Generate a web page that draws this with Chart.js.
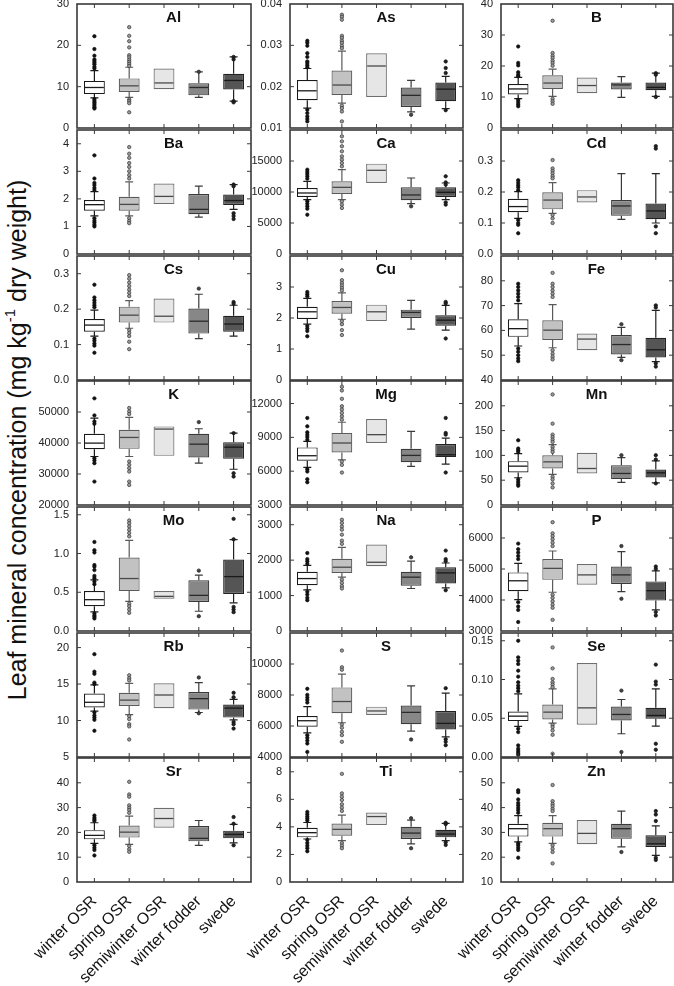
<!DOCTYPE html>
<html>
<head>
<meta charset="utf-8">
<script src="https://cdn.jsdelivr.net/npm/chart.js@4.4.1/dist/chart.umd.min.js"></script>
<style>
  html, body { margin: 0; padding: 0; background: #fff; }
  #fig { position: relative; width: 674px; height: 986px; overflow: hidden; background: #fff; }
  #fig canvas { position: absolute; }
  #ytitle {
    position: absolute; left: 17px; top: 440px;
    transform: translate(-50%, -50%) rotate(-90deg);
    white-space: nowrap; color: #111;
    font: 25px "Liberation Sans", Arial, sans-serif;
  }
  #ytitle sup { font-size: 0.6em; vertical-align: 0.7em; line-height: 0; }
</style>
</head>
<body>
<div id="fig">
  <div id="ytitle">Leaf mineral concentration (mg kg<sup>-1</sup> dry weight)</div>
</div>
<script>
// ---- data ----
const GROUPS = ['winter OSR', 'spring OSR', 'semiwinter OSR', 'winter fodder', 'swede'];

// axis: [min, max, step]; box rows: [lower whisker, q1, median, q3, upper whisker]
const AL_AXIS = [0, 30, 10];
const AL_BOX = [[7.3, 8.2, 9.8, 11.4, 13.9], [7.4, 8.7, 10.2, 12.0, 14.7], [null, 9.4, 10.9, 14.4, null], [7.4, 7.9, 9.8, 10.8, 13.6], [6.5, 9.3, 11.5, 13.1, 17.2]];
const AL_OUT = [[22.2, 19.1, 17.5, 16.6, 16.2, 15.8, 15.4, 14.8, 14.4, 7.0, 6.6, 6.2, 5.8, 5.4, 5.0, 4.7], [24.4, 22.3, 21.0, 19.5, 17.6, 17.1, 16.5, 16.0, 15.5, 15.0, 6.9, 6.5, 6.0, 3.8], [], [13.6], [17.2, 16.6, 6.5, 6.2]];

const AS_AXIS = [0.01, 0.04, 0.01];
const AS_BOX = [[0.0148, 0.0167, 0.0190, 0.0216, 0.0244], [0.0160, 0.0180, 0.0204, 0.0239, 0.0286], [null, 0.0175, 0.0250, 0.0281, null], [0.0139, 0.0151, 0.0179, 0.0198, 0.0215], [0.0147, 0.0165, 0.0194, 0.0210, 0.0225]];
const AS_OUT = [[0.0311, 0.0306, 0.0299, 0.0281, 0.0272, 0.0261, 0.0257, 0.0252, 0.0247, 0.0144, 0.0136, 0.0128, 0.0122, 0.0116], [0.0374, 0.0369, 0.0362, 0.0323, 0.0318, 0.0311, 0.0306, 0.0299, 0.0293, 0.0154, 0.0148, 0.0140, 0.0116], [], [0.0132], [0.0261, 0.0245, 0.0233, 0.0143]];

const B_AXIS = [0, 40, 10];
const B_BOX = [[9.5, 10.8, 12.6, 14.2, 16.3], [10.2, 12.6, 14.5, 17.0, 19.0], [null, 11.2, 13.7, 16.3, null], [9.9, 12.4, 13.9, 14.7, 16.6], [10.2, 12.2, 13.1, 14.7, 17.7]];
const B_OUT = [[26.3, 21.0, 20.2, 18.0, 17.2, 16.7, 9.1, 8.4, 7.7, 7.0], [34.6, 24.2, 23.3, 22.6, 21.7, 21.0, 20.1, 9.4, 8.6, 7.8], [], [], [17.7, 17.2, 10.0]];

const BA_AXIS = [0, 4.5, 1];
const BA_BOX = [[1.38, 1.57, 1.79, 1.96, 2.26], [1.38, 1.57, 1.80, 2.08, 2.62], [null, 1.81, 2.09, 2.56, null], [1.34, 1.44, 1.62, 2.18, 2.46], [1.62, 1.78, 1.94, 2.16, 2.52]];
const BA_OUT = [[3.58, 2.74, 2.58, 2.50, 2.40, 2.32, 1.30, 1.21, 1.14, 1.06, 1.00], [3.88, 3.64, 3.49, 3.30, 3.16, 3.00, 2.86, 2.74, 1.30, 1.20, 1.12], [], [], [2.52, 2.46, 1.48, 1.38, 1.27]];

const CA_AXIS = [0, 20000, 5000];
const CA_BOX = [[8760, 9190, 9840, 10650, 11720], [8760, 9680, 10750, 11720, 13600], [null, 11450, 13500, 14570, null], [8120, 8660, 9520, 10750, 12260], [8760, 9190, 9950, 10750, 11450]];
const CA_OUT = [[13600, 13230, 12900, 12530, 12150, 8500, 8120, 7690, 7310, 6340], [18980, 18170, 17370, 16560, 15750, 15220, 14680, 14140, 8500, 7960, 7420], [], [7690], [12530, 11560, 11180, 8330, 7960]];

const CD_AXIS = [0, 0.4, 0.1];
const CD_BOX = [[0.115, 0.135, 0.153, 0.178, 0.201], [0.131, 0.144, 0.174, 0.199, 0.230], [null, 0.166, 0.184, 0.206, null], [0.112, 0.123, 0.155, 0.174, 0.259], [0.100, 0.112, 0.139, 0.163, 0.259]];
const CD_OUT = [[0.238, 0.230, 0.222, 0.215, 0.206, 0.110, 0.100, 0.094, 0.067], [0.303, 0.276, 0.268, 0.260, 0.251, 0.244, 0.126, 0.115, 0.100], [], [], [0.348, 0.340, 0.089, 0.067]];

const CS_AXIS = [0, 0.35, 0.1];
const CS_BOX = [[0.124, 0.136, 0.155, 0.172, 0.197], [0.146, 0.162, 0.183, 0.207, 0.224], [null, 0.162, 0.180, 0.230, null], [0.117, 0.131, 0.166, 0.202, 0.242], [0.124, 0.136, 0.158, 0.181, 0.211]];
const CS_OUT = [[0.269, 0.233, 0.225, 0.218, 0.211, 0.205, 0.117, 0.111, 0.103, 0.097, 0.077], [0.296, 0.286, 0.275, 0.265, 0.255, 0.246, 0.237, 0.141, 0.133, 0.124, 0.108, 0.087], [], [0.258], [0.220, 0.215]];

const CU_AXIS = [0, 4, 1];
const CU_BOX = [[1.80, 1.97, 2.20, 2.36, 2.63], [1.96, 2.14, 2.34, 2.55, 2.81], [null, 1.90, 2.20, 2.43, null], [1.64, 2.00, 2.18, 2.27, 2.57], [1.61, 1.75, 1.93, 2.09, 2.41]];
const CU_OUT = [[2.84, 2.77, 2.70, 1.74, 1.66, 1.58, 1.41], [3.54, 3.22, 3.13, 3.05, 2.97, 2.89, 1.90, 1.80, 1.61, 1.45], [], [], [2.52, 2.47, 1.34]];

const FE_AXIS = [40, 90, 10];
const FE_BOX = [[53.7, 57.4, 60.7, 64.5, 70.8], [53.0, 56.1, 60.1, 64.1, 70.4], [null, 52.0, 56.5, 58.7, null], [49.1, 50.3, 54.3, 58.1, 61.2], [47.4, 49.1, 52.2, 57.0, 68.1]];
const FE_OUT = [[78.8, 77.5, 76.1, 74.8, 73.5, 72.1, 52.7, 51.4, 50.0, 48.7, 47.6], [83.2, 78.8, 77.5, 76.1, 74.8, 73.5, 52.0, 50.6, 49.4, 48.3], [], [62.5, 48.0], [70.1, 69.2, 46.7, 45.4]];

const K_AXIS = [20000, 60000, 10000];
const K_BOX = [[35640, 38020, 39960, 42980, 48050], [35640, 38120, 41790, 44270, 48260], [null, 35860, 44490, 45350, null], [33480, 35320, 39630, 42980, 44600], [31540, 34890, 38660, 40280, 43190]];
const K_OUT = [[54410, 48910, 46970, 46210, 35100, 34350, 33480, 27550], [51290, 50200, 49340, 34020, 32950, 31870, 30790, 27550, 26470], [], [46750], [43190, 30250, 29170]];

const MG_AXIS = [3000, 14000, 3000];
const MG_BOX = [[6330, 6920, 7370, 8110, 8640], [7010, 7660, 8500, 9390, 10340], [null, 8500, 9240, 10630, null], [6420, 6800, 7400, 7990, 9540], [6620, 7250, 7460, 8410, 8940]];
const MG_OUT = [[10720, 9980, 9450, 9240, 9030, 8790, 6180, 5970, 5290, 5020], [13490, 13160, 12420, 11760, 11470, 11170, 10870, 10570, 6860, 6560, 5880], [], [], [10720, 9390, 9240, 5880]];

const MN_AXIS = [0, 250, 50];
const MN_BOX = [[54.9, 65.6, 78.3, 88.4, 103.7], [61.6, 73.6, 87.0, 100.4, 121.8], [null, 63.6, 73.6, 105.1, null], [45.5, 52.2, 63.6, 80.3, 95.7], [44.8, 55.6, 64.9, 71.6, 89.0]];
const MN_OUT = [[130.5, 113.8, 110.4, 107.1, 51.5, 46.9, 42.2, 38.8], [222.9, 164.0, 141.9, 137.2, 131.9, 127.2, 117.1, 111.8, 107.1, 56.9, 51.5, 43.5, 35.5], [], [100.4], [100.4, 91.7, 43.5]];

const MO_AXIS = [0, 1.6, 0.5];
const MO_BOX = [[0.247, 0.319, 0.404, 0.515, 0.660], [0.383, 0.515, 0.677, 0.949, 1.170], [null, 0.417, 0.447, 0.515, null], [0.255, 0.374, 0.460, 0.655, 0.720], [0.362, 0.477, 0.702, 0.923, 1.179]];
const MO_OUT = [[1.149, 1.043, 1.013, 0.851, 0.830, 0.787, 0.711, 0.681, 0.638, 0.604, 0.226, 0.200, 0.183, 0.162], [1.426, 1.391, 1.349, 1.306, 1.264, 1.221, 0.353, 0.319, 0.277, 0.234], [], [0.779, 0.191], [1.447, 1.183, 0.311, 0.277, 0.243]];

const NA_AXIS = [0, 3500, 1000];
const NA_BOX = [[1160, 1290, 1480, 1670, 1850], [1520, 1640, 1800, 2040, 2360], [null, 1830, 1940, 2440, null], [1200, 1280, 1520, 1670, 1970], [1220, 1340, 1640, 1800, 1920]];
const NA_OUT = [[2200, 2030, 1970, 1900, 1110, 1030, 940, 870], [3140, 3050, 2950, 2860, 2720, 2550, 2460, 1450, 1360, 1270, 1200], [], [2080], [2270, 2030, 1970, 1150]];

const P_AXIS = [3000, 7000, 1000];
const P_BOX = [[4010, 4280, 4620, 4890, 5180], [4250, 4650, 5020, 5320, 5580], [null, 4490, 4810, 5160, null], [4270, 4520, 4810, 5080, 5560], [3680, 3980, 4300, 4600, 4940]];
const P_OUT = [[5820, 5640, 5530, 5420, 5320, 3930, 3790, 3680, 3290], [6510, 6150, 6060, 5960, 5850, 5740, 4170, 4070, 3960, 3850, 3750, 3360], [], [5740, 4040], [5080, 5000, 3610, 3500]];

const RB_AXIS = [5, 22, 5];
const RB_BOX = [[11.3, 11.8, 12.5, 13.7, 14.9], [10.8, 12.0, 12.8, 13.8, 15.1], [null, 11.7, 13.5, 15.1, null], [11.1, 11.5, 13.0, 13.9, 15.2], [10.1, 10.4, 11.7, 12.2, 12.9]];
const RB_OUT = [[19.1, 16.7, 16.4, 15.2, 15.0, 11.1, 10.7, 10.4, 10.1, 8.6], [16.2, 15.8, 15.5, 10.6, 10.2, 9.5, 9.2, 7.4], [], [15.9, 11.0], [13.8, 13.2, 9.8, 9.5, 8.9]];

const S_AXIS = [4000, 12000, 2000];
const S_BOX = [[5560, 5950, 6340, 6640, 7250], [6210, 6820, 7580, 8490, 9350], [null, 6710, 6970, 7250, null], [5670, 6120, 6880, 7320, 8590], [5300, 5780, 6170, 6970, 8120]];
const S_OUT = [[8400, 8010, 7840, 7680, 7510, 5410, 5240, 5060, 4870, 4330], [10870, 9790, 9630, 6100, 5890, 5630, 5410, 4980], [], [5130], [8440, 5150, 4980, 4760]];

const SE_AXIS = [0, 0.16, 0.05];
const SE_BOX = [[0.0394, 0.0463, 0.0527, 0.0587, 0.0814], [0.0437, 0.0484, 0.0579, 0.0677, 0.0879], [null, 0.0416, 0.0634, 0.1213, null], [0.0300, 0.0471, 0.0549, 0.0651, 0.0742], [0.0399, 0.0493, 0.0536, 0.0634, 0.0879]];
const SE_OUT = [[0.150, 0.1286, 0.1243, 0.120, 0.1114, 0.1037, 0.0964, 0.0921, 0.0887, 0.0849, 0.0364, 0.0321, 0.015, 0.0107, 0.0077, 0.0051, 0.003], [0.1414, 0.1144, 0.1007, 0.0964, 0.0934, 0.090, 0.0416, 0.0386, 0.0343, 0.0287, 0.0043], [], [0.0857, 0.0064], [0.1192, 0.0973, 0.0934, 0.0171, 0.0094]];

const SR_AXIS = [0, 50, 10];
const SR_BOX = [[15.6, 17.2, 18.8, 20.9, 23.9], [15.2, 17.9, 20.1, 22.8, 26.6], [null, 21.9, 25.6, 29.9, null], [14.8, 16.4, 17.6, 22.6, 24.8], [15.8, 17.6, 19.2, 20.7, 23.2]];
const SR_OUT = [[26.8, 25.9, 25.2, 24.6, 14.8, 13.8, 12.9, 10.7], [40.4, 35.3, 34.4, 30.9, 29.9, 29.0, 27.9, 14.5, 13.2, 12.2], [], [], [26.2, 23.5, 14.8]];

const TI_AXIS = [0, 9, 2];
const TI_BOX = [[3.12, 3.24, 3.58, 3.94, 4.32], [3.00, 3.36, 3.82, 4.25, 4.85], [null, 4.13, 4.75, 5.04, null], [2.76, 3.12, 3.55, 4.01, 4.49], [3.00, 3.24, 3.48, 3.79, 4.25]];
const TI_OUT = [[5.09, 4.92, 4.75, 4.61, 4.46, 3.05, 2.83, 2.64, 2.45, 2.23], [7.85, 6.43, 6.19, 5.95, 5.64, 5.40, 5.16, 2.83, 2.64, 2.45], [], [4.63, 2.45], [4.30, 4.20, 2.88, 2.69]];

const ZN_AXIS = [10, 60, 10];
const ZN_BOX = [[26.2, 28.3, 31.5, 33.5, 36.8], [25.6, 28.3, 31.5, 33.9, 36.8], [null, 25.2, 29.6, 35.0, null], [24.2, 27.4, 31.5, 33.5, 38.6], [20.7, 24.1, 25.4, 28.9, 32.6]];
const ZN_OUT = [[47.0, 46.2, 43.3, 41.9, 40.9, 39.9, 39.0, 37.9, 25.6, 24.8, 23.8, 22.9, 19.8], [49.1, 42.6, 41.5, 40.6, 39.5, 38.6, 24.8, 23.4, 22.1, 17.5], [], [22.1], [38.6, 37.2, 34.6, 19.8, 18.9]];

// panels in reading order (3 per row)
const PANELS = [
    ['Al', AL_AXIS, AL_BOX, AL_OUT], ['As', AS_AXIS, AS_BOX, AS_OUT], ['B', B_AXIS, B_BOX, B_OUT],
    ['Ba', BA_AXIS, BA_BOX, BA_OUT], ['Ca', CA_AXIS, CA_BOX, CA_OUT], ['Cd', CD_AXIS, CD_BOX, CD_OUT],
    ['Cs', CS_AXIS, CS_BOX, CS_OUT], ['Cu', CU_AXIS, CU_BOX, CU_OUT], ['Fe', FE_AXIS, FE_BOX, FE_OUT],
    ['K', K_AXIS, K_BOX, K_OUT], ['Mg', MG_AXIS, MG_BOX, MG_OUT], ['Mn', MN_AXIS, MN_BOX, MN_OUT],
    ['Mo', MO_AXIS, MO_BOX, MO_OUT], ['Na', NA_AXIS, NA_BOX, NA_OUT], ['P', P_AXIS, P_BOX, P_OUT],
    ['Rb', RB_AXIS, RB_BOX, RB_OUT], ['S', S_AXIS, S_BOX, S_OUT], ['Se', SE_AXIS, SE_BOX, SE_OUT],
    ['Sr', SR_AXIS, SR_BOX, SR_OUT], ['Ti', TI_AXIS, TI_BOX, TI_OUT], ['Zn', ZN_AXIS, ZN_BOX, ZN_OUT]
];

// ---- styles / layout ----
const BOX_FILL = ['#ffffff', '#c2c2c2', '#e6e6e6', '#878787', '#555555'];
const BOX_LINE = ['#1a1a1a', '#5a5a5a', '#6e6e6e', '#3a3a3a', '#222222'];
const MEDIAN_LINE = ['#1a1a1a', '#4a4a4a', '#4a4a4a', '#2a2a2a', '#1a1a1a'];
const DOT_FILL = ['#111111', '#9a9a9a', '#777777', '#444444', '#222222'];
const DOT_LINE = ['#111111', '#333333', '#444444', '#222222', '#111111'];
const FRAME = '#3a3a3a';
const FONT = '"Liberation Sans", Arial, Helvetica, sans-serif';

const COL_LEFT = [77, 290, 501];
const COL_W = [174, 173, 172];
const ROW_TOP = [4, 130, 256, 381, 507, 633, 758];
const PLOT_H = 124;
const Y_AXIS_W = 60;
const PAD = 16;
const X_AXIS_H = 104;

Chart.defaults.font.family = FONT;
Chart.defaults.color = '#222';

// whiskers, medians, frame, inner ticks and panel title
const boxPlotPlugin = {
    id: 'boxPlot',
    beforeDatasetsDraw(chart) {
        const ctx = chart.ctx;
        const y = chart.scales.y;
        const stats = chart.data.datasets[0].stats;
        const meta = chart.getDatasetMeta(0);
        ctx.save();
        ctx.lineWidth = 1.2;
        meta.data.forEach((bar, i) => {
            const s = stats[i];
            const {x} = bar.getProps(['x'], true);
            ctx.strokeStyle = BOX_LINE[i];
            [[s[0], s[1]], [s[4], s[3]]].forEach(([end, edge]) => {
                if (end === null) return;
                const ye = y.getPixelForValue(end), yb = y.getPixelForValue(edge);
                ctx.beginPath();
                ctx.moveTo(x, yb); ctx.lineTo(x, ye);
                ctx.moveTo(x - 4, ye); ctx.lineTo(x + 4, ye);
                ctx.stroke();
            });
        });
        ctx.restore();
    },
    afterDatasetsDraw(chart) {
        const ctx = chart.ctx;
        const {left, right, top, bottom} = chart.chartArea;
        const x = chart.scales.x, y = chart.scales.y;
        const ds = chart.data.datasets[0];
        const meta = chart.getDatasetMeta(0);
        ctx.save();
        // medians
        ctx.lineWidth = 1.3;
        meta.data.forEach((bar, i) => {
            const {x: bx, width} = bar.getProps(['x', 'width'], true);
            const ym = y.getPixelForValue(ds.stats[i][2]);
            ctx.strokeStyle = MEDIAN_LINE[i];
            ctx.beginPath();
            ctx.moveTo(bx - width / 2 + 1, ym); ctx.lineTo(bx + width / 2 - 1, ym);
            ctx.stroke();
        });
        // frame
        ctx.strokeStyle = FRAME;
        ctx.lineWidth = 1.6;
        ctx.strokeRect(left, top, right - left, bottom - top);
        // inner ticks
        ctx.lineWidth = 1;
        ctx.beginPath();
        x.ticks.forEach((t, i) => {
            const px = x.getPixelForTick(i);
            ctx.moveTo(px, top); ctx.lineTo(px, top + 4);
            ctx.moveTo(px, bottom); ctx.lineTo(px, bottom - 4);
        });
        y.ticks.forEach((t) => {
            const py = y.getPixelForValue(t.value);
            if (py <= top + 1 || py >= bottom - 1) return;
            ctx.moveTo(left, py); ctx.lineTo(left + 4, py);
            ctx.moveTo(right, py); ctx.lineTo(right - 4, py);
        });
        ctx.stroke();
        // title
        ctx.fillStyle = '#111';
        ctx.font = 'bold 15px ' + FONT;
        ctx.textAlign = 'center';
        ctx.textBaseline = 'middle';
        ctx.fillText(ds.panelName, left + (right - left) * 0.555, top + 14);
        ctx.restore();
    }
};

function makePanel(i) {
    const [name, axis, box, out] = PANELS[i];
    const row = Math.floor(i / 3), col = i % 3;
    const bottomRow = row === ROW_TOP.length - 1;
    const decimals = Math.max(0, -Math.floor(Math.log10(axis[2]) + 1e-9));

    const cv = document.createElement('canvas');
    cv.width = Y_AXIS_W + COL_W[col] + PAD;
    cv.height = PAD + PLOT_H + (bottomRow ? X_AXIS_H : PAD);
    cv.style.left = (COL_LEFT[col] - Y_AXIS_W) + 'px';
    cv.style.top = (ROW_TOP[row] - PAD) + 'px';
    document.getElementById('fig').appendChild(cv);

    const points = [], fills = [], lines = [];
    out.forEach((vals, g) => vals.forEach(v => {
        points.push({x: GROUPS[g], y: v});
        fills.push(DOT_FILL[g]);
        lines.push(DOT_LINE[g]);
    }));

    new Chart(cv, {
        type: 'bar',
        data: {
            labels: GROUPS,
            datasets: [
                {
                    type: 'bar',
                    data: box.map(s => [s[1], s[3]]),
                    stats: box,
                    panelName: name,
                    backgroundColor: BOX_FILL,
                    borderColor: BOX_LINE,
                    borderWidth: 1.2,
                    borderSkipped: false,
                    barPercentage: 0.6,
                    categoryPercentage: 1,
                    order: 1
                },
                {
                    type: 'line',
                    data: points,
                    showLine: false,
                    pointRadius: 1.7,
                    pointBorderWidth: 0.7,
                    pointBackgroundColor: fills,
                    pointBorderColor: lines,
                    order: 0
                }
            ]
        },
        options: {
            responsive: false,
            animation: false,
            devicePixelRatio: 1,
            layout: {padding: {left: 0, right: PAD, top: PAD, bottom: bottomRow ? 0 : PAD}},
            plugins: {legend: {display: false}, tooltip: {enabled: false}},
            scales: {
                x: {
                    display: bottomRow,
                    grid: {display: false},
                    border: {display: false},
                    ticks: {
                        font: {size: 16},
                        color: '#111',
                        minRotation: 45,
                        maxRotation: 45,
                        autoSkip: false,
                        padding: 2
                    },
                    afterFit: s => { s.height = bottomRow ? X_AXIS_H : 0; }
                },
                y: {
                    min: axis[0],
                    max: axis[1],
                    bounds: 'data',
                    grid: {display: false, drawTicks: false},
                    border: {display: false},
                    // fixed tick steps from the axis array (min, min+step, ... <= max)
                    afterBuildTicks: s => {
                        const ticks = [];
                        for (let k = 0; axis[0] + k * axis[2] <= axis[1] + 1e-9; k++) {
                            ticks.push({value: +(axis[0] + k * axis[2]).toFixed(6)});
                        }
                        s.ticks = ticks;
                    },
                    ticks: {
                        padding: 8,
                        font: {size: 11},
                        color: '#222',
                        callback: v => (row > 0 && Math.abs(v - axis[1]) < 1e-9) ? null : Number(v).toFixed(decimals)
                    },
                    afterFit: s => { s.width = Y_AXIS_W; }
                }
            }
        },
        plugins: [boxPlotPlugin]
    });
}

PANELS.forEach((p, i) => makePanel(i));
</script>
</body>
</html>
